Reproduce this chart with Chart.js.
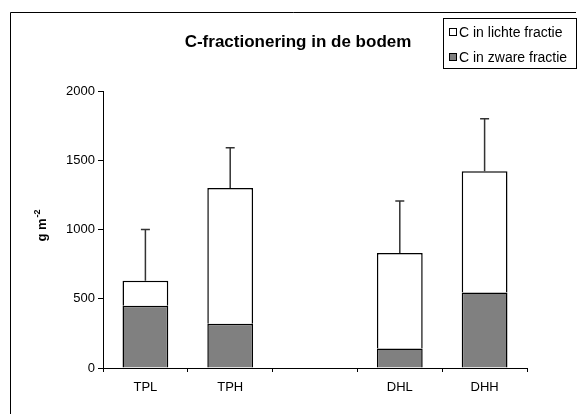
<!DOCTYPE html>
<html>
<head>
<meta charset="utf-8">
<script src="https://cdn.jsdelivr.net/npm/chart.js@4"></script>
<style>
  html, body { margin: 0; padding: 0; background: #fff; overflow: hidden; }
  canvas { display: block; }
</style>
</head>
<body>
<canvas id="cfrac" width="580" height="414"></canvas>
<script>
// categorieen (lege plek tussen TP en DH)
const categories = ["TPL", "TPH", "", "DHL", "DHH"];
// C in zware fractie (g m-2)
const zwareFractie = [450, 320, null, 140, 545];
// C in lichte fractie (g m-2)
const lichteFractie = [180, 980, null, 690, 875];
// foutbalk boven totaal
const foutPlus = [370, 290, null, 375, 380];
const yTicks = [0, 500, 1000, 1500, 2000];

const FONT = "'Liberation Sans', Arial, sans-serif";

// kader, titel, legenda, y-as titel en foutbalken
const extraPlugin = {
    id: "extra",
    beforeDraw(chart) {
        const ctx = chart.ctx;
        ctx.save();
        ctx.fillStyle = "#fff";
        ctx.fillRect(0, 0, chart.width, chart.height);
        // kader: alleen links en boven zichtbaar
        ctx.strokeStyle = "#000";
        ctx.lineWidth = 1;
        ctx.beginPath();
        ctx.moveTo(10.5, chart.height);
        ctx.lineTo(10.5, 12.5);
        ctx.lineTo(576, 12.5);
        ctx.stroke();
        ctx.restore();
    },
    afterDatasetsDraw(chart) {
        const ctx = chart.ctx;
        const x = chart.scales.x;
        const y = chart.scales.y;
        ctx.save();
        ctx.strokeStyle = "#333";
        ctx.lineWidth = 1.5;
        categories.forEach((c, i) => {
            if (zwareFractie[i] == null) return;
            const totaal = zwareFractie[i] + lichteFractie[i];
            const px = x.getPixelForValue(i);
            const y0 = y.getPixelForValue(totaal);
            const y1 = y.getPixelForValue(totaal + foutPlus[i]);
            ctx.beginPath();
            ctx.moveTo(px, y0);
            ctx.lineTo(px, y1);
            ctx.moveTo(px - 4.5, y1);
            ctx.lineTo(px + 4.5, y1);
            ctx.stroke();
        });
        ctx.restore();
    },
    afterDraw(chart) {
        const ctx = chart.ctx;
        ctx.save();
        // titel
        ctx.fillStyle = "#000";
        ctx.font = "bold 17px " + FONT;
        ctx.textAlign = "center";
        ctx.textBaseline = "alphabetic";
        ctx.fillText("C-fractionering in de bodem", 298, 47);

        // legenda
        ctx.fillStyle = "#fff";
        ctx.fillRect(443, 18, 133, 50);
        ctx.strokeStyle = "#000";
        ctx.lineWidth = 1;
        ctx.strokeRect(443.5, 18.5, 133, 50);
        const items = chart.data.datasets.slice().reverse();
        ctx.font = "14px " + FONT;
        ctx.textAlign = "left";
        ctx.textBaseline = "middle";
        items.forEach((ds, k) => {
            const ty = 32 + k * 25;
            ctx.fillStyle = ds.backgroundColor;
            ctx.fillRect(449.5, ty - 3.5, 7, 7);
            ctx.strokeStyle = "#000";
            ctx.strokeRect(449.5, ty - 3.5, 7, 7);
            ctx.fillStyle = "#000";
            ctx.fillText(ds.label, 459, ty + 1);
        });

        // y-as titel g m-2
        ctx.translate(46, 226);
        ctx.rotate(-Math.PI / 2);
        ctx.textAlign = "left";
        ctx.textBaseline = "alphabetic";
        ctx.font = "bold 13px " + FONT;
        const basis = "g m";
        const w1 = ctx.measureText(basis).width;
        ctx.font = "bold 9px " + FONT;
        const w2 = ctx.measureText("-2").width;
        const start = -(w1 + w2) / 2;
        ctx.font = "bold 13px " + FONT;
        ctx.fillText(basis, start, 0);
        ctx.font = "bold 9px " + FONT;
        ctx.fillText("-2", start + w1 + 1, -6);
        ctx.restore();
    }
};

new Chart(document.getElementById("cfrac"), {
    type: "bar",
    data: {
        labels: categories,
        datasets: [
            {
                label: "C in zware fractie",
                data: zwareFractie,
                backgroundColor: "#808080",
                borderColor: "#000",
                borderWidth: 1.5
            },
            {
                label: "C in lichte fractie",
                data: lichteFractie,
                backgroundColor: "#ffffff",
                borderColor: "#000",
                borderWidth: 1.5
            }
        ]
    },
    options: {
        responsive: false,
        animation: false,
        layout: { padding: { top: 91, right: 53, bottom: 0, left: 0 } },
        datasets: {
            bar: { barPercentage: 0.54, categoryPercentage: 1 }
        },
        plugins: {
            legend: { display: false },
            title: { display: false },
            tooltip: { enabled: false }
        },
        scales: {
            x: {
                stacked: true,
                offset: true,
                grid: {
                    offset: true,
                    drawOnChartArea: false,
                    drawTicks: true,
                    tickLength: 4,
                    color: "#000"
                },
                border: { display: true, color: "#000", width: 1 },
                ticks: {
                    color: "#000",
                    padding: 8,
                    font: { family: FONT, size: 13 }
                },
                afterFit(scale) { scale.height = 46; }
            },
            y: {
                stacked: true,
                min: 0,
                max: 2000,
                afterBuildTicks(scale) {
                    scale.ticks = yTicks.map(v => ({ value: v }));
                },
                grid: {
                    drawOnChartArea: false,
                    drawTicks: true,
                    tickLength: 5,
                    color: "#000"
                },
                border: { display: true, color: "#000", width: 1 },
                ticks: {
                    color: "#000",
                    padding: 3,
                    font: { family: FONT, size: 13 },
                    callback: v => String(v)
                },
                afterFit(scale) { scale.width = 103; }
            }
        }
    },
    plugins: [extraPlugin]
});
</script>
</body>
</html>
